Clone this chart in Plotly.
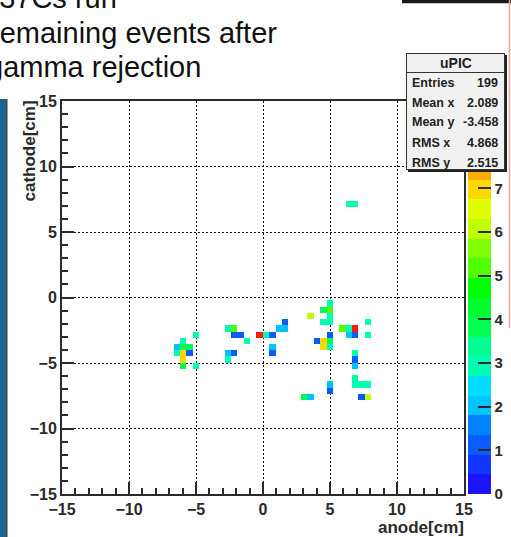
import numpy as np
import plotly.graph_objects as go

# ---------------- data ----------------
title_lines = ["137Cs run", "remaining events after", "gamma rejection"]
x_label = "anode[cm]"
y_label = "cathode[cm]"
axis_ticks = [-15, -10, -5, 0, 5, 10, 15]
bin_width = 10 / 21  # cm

# occupied bins: centres (cm) and counts
cell_x = [-5.00, -5.95, -6.43, -5.95, -5.48, -6.43, -5.95, -5.48, -5.95, -5.95, -5.00,
          -2.62, -2.14, -2.14, -1.67, -1.19, -2.62, -2.14, -2.62,
          -0.24, 0.24, 0.71, 0.71, 0.71, 1.19, 1.67, 1.67,
          4.52, 3.57, 4.52, 5.00, 5.00, 5.00, 5.00, 5.00, 5.00, 5.00, 4.05, 4.52, 4.52,
          5.95, 6.43, 6.90, 6.43, 6.90, 7.86, 7.86, 6.90, 6.90, 6.90, 6.90, 6.90, 7.38, 7.86,
          5.00, 5.00, 3.10, 3.57, 7.38, 7.86,
          6.43, 6.90]
cell_y = [-2.86, -3.33, -3.81, -3.81, -3.81, -4.29, -4.29, -4.29, -4.76, -5.24, -5.24,
          -2.38, -2.38, -2.86, -2.86, -3.33, -4.29, -4.29, -4.76,
          -2.86, -2.86, -2.86, -3.81, -4.29, -2.38, -2.38, -1.90,
          -0.95, -1.43, -1.90, -0.48, -0.95, -1.43, -1.90, -2.86, -3.33, -3.81, -3.33, -3.33, -3.81,
          -2.38, -2.38, -2.38, -2.86, -2.86, -1.90, -2.86, -4.29, -4.76, -5.24, -6.19, -6.67, -6.67, -6.67,
          -6.67, -7.14, -7.62, -7.62, -7.62, -7.62,
          7.14, 7.14]
cell_z = [3, 3, 2, 4, 4, 3, 7, 1, 7, 4, 3,
          3, 5, 1, 1, 3, 2, 1, 3,
          9, 3, 1, 2, 1, 2, 2, 1,
          4, 6, 3, 3, 5, 3, 3, 1, 4, 3, 1, 7, 7,
          5, 3, 9, 2, 1, 3, 3, 3, 1, 2, 3, 3, 3, 3,
          2, 1, 4, 2, 1, 6,
          3, 3]
z_min, z_max = 0, 9
band_colors = ["#1a14ff", "#1036ff", "#0a5cff", "#0082ff", "#00c4ff",
               "#00dcff", "#00ffb0", "#00ff90", "#00ff50", "#00ff30",
               "#00ff00", "#50ff00", "#80ff00", "#c0ff00", "#e0ff00",
               "#ffd800", "#ffaa00", "#ff7700", "#ff4000", "#ff1a00"]
colorbar_ticks = [0, 1, 2, 3, 4, 5, 6, 7]

stats_title = "uPIC"
stats_names = ["Entries", "Mean x", "Mean y", "RMS x", "RMS y"]
stats_values = ["199", "2.089", "-3.458", "4.868", "2.515"]

# ---------------- geometry helpers ----------------
W, H = 511, 537
L, R, T, B = 62, 47, 101, 43
PW, PH = W - L - R, H - T - B


def xp(px):
    return (px - L) / PW


def yp(py):
    return (H - B - py) / PH


# ---------------- histogram grid ----------------
ix_all = np.arange(-32, 32)
iy_all = np.arange(-32, 33)
xc = (ix_all + 0.5) * bin_width
yc = iy_all * bin_width
z = np.full((len(yc), len(xc)), np.nan)
for cx, cy, cz in zip(cell_x, cell_y, cell_z):
    i = int(round(cx / bin_width - 0.5)) + 32
    j = int(round(cy / bin_width)) + 32
    z[j, i] = cz

n = len(band_colors)
colorscale = []
for k, c in enumerate(band_colors):
    colorscale.append([k / n, c])
    colorscale.append([(k + 1) / n, c])

FONT = "Liberation Sans, Arial, sans-serif"
DARK = "#2a2a2a"

fig = go.Figure()
fig.add_trace(go.Heatmap(
    x=xc, y=yc, z=z, zmin=z_min, zmax=z_max, colorscale=colorscale,
    zsmooth=False, hoverinfo="skip", showscale=True,
    colorbar=dict(
        x=xp(468), xanchor="left", xpad=0, y=0.5, yanchor="middle",
        len=1, lenmode="fraction", ypad=0, thickness=23, outlinewidth=0,
        tickvals=colorbar_ticks, ticks="inside", ticklen=13, tickwidth=1.5,
        tickcolor=DARK,
        tickfont=dict(family=FONT, size=15, color=DARK, weight="bold"),
    ),
))

axis_common = dict(
    range=[-15, 15], tickvals=axis_ticks, ticks="inside", ticklen=12,
    tickwidth=1.5, tickcolor=DARK, showline=True, linecolor=DARK, linewidth=2,
    mirror=True, showgrid=True, gridcolor="#111", griddash="1.5px,2.5px",
    gridwidth=1, zeroline=False, automargin=False,
    minor=dict(dtick=1, ticks="inside", ticklen=6, tickcolor=DARK, tickwidth=1.5, showgrid=False),
    tickfont=dict(family=FONT, size=16, color=DARK, weight="bold"),
)
fig.update_xaxes(**axis_common)
fig.update_yaxes(**axis_common)

shapes = [
    # left blue slide strip
    dict(type="rect", xref="paper", yref="paper", x0=xp(0), x1=xp(6), y0=yp(537), y1=yp(99),
         fillcolor="#1a6592", line_width=0, layer="above"),
    dict(type="rect", xref="paper", yref="paper", x0=xp(6), x1=xp(7.5), y0=yp(537), y1=yp(99),
         fillcolor="#444", line_width=0, layer="above"),
    # top-right dark bar
    dict(type="rect", xref="paper", yref="paper", x0=xp(402), x1=xp(511), y0=yp(3.3), y1=yp(0),
         fillcolor="#1a1a1a", line_width=0, layer="above"),
    # pink vertical line
    dict(type="line", xref="paper", yref="paper", x0=xp(509.5), x1=xp(509.5), y0=yp(328), y1=yp(0),
         line=dict(color="#f2a0a0", width=1.5), layer="above"),
]

ann = []
# slide title (cut by the left/top edges)
title_pos = [(-19, -2), (-11.7, 33), (-15, 67)]
for txt, (px, py) in zip(title_lines, title_pos):
    ann.append(dict(text=txt, xref="paper", yref="paper", x=xp(px), y=yp(py),
                    xanchor="left", yanchor="middle", showarrow=False,
                    font=dict(family=FONT, size=29, color="#111")))

# axis titles
ann.append(dict(text=x_label, xref="paper", yref="paper", x=xp(466), y=yp(527),
                xanchor="right", yanchor="middle", showarrow=False,
                font=dict(family=FONT, size=17, color=DARK, weight="bold")))
ann.append(dict(text=y_label, xref="paper", yref="paper", x=xp(29), y=yp(99),
                xanchor="center", yanchor="top", textangle=-90, showarrow=False,
                font=dict(family=FONT, size=17, color=DARK, weight="bold")))

# stats box: shadow, box, header line
bx0, bx1, by0, by1 = 406, 505, 53, 170
ann.append(dict(text=" ", xref="paper", yref="paper", x=xp(bx0 + 2), y=yp(by0 + 2),
                xanchor="left", yanchor="top", showarrow=False, width=bx1 - bx0, height=by1 - by0,
                bgcolor="#222", borderwidth=0, borderpad=0, font=dict(size=2)))
ann.append(dict(text=" ", xref="paper", yref="paper", x=xp(bx0), y=yp(by0),
                xanchor="left", yanchor="top", showarrow=False, width=bx1 - bx0 - 2, height=by1 - by0 - 2,
                bgcolor="#f1f1f1", bordercolor="#333", borderwidth=1, borderpad=0, font=dict(size=2)))
ann.append(dict(text=" ", xref="paper", yref="paper", x=xp(bx0), y=yp(72),
                xanchor="left", yanchor="middle", showarrow=False, width=bx1 - bx0, height=1,
                bgcolor="#333", borderwidth=0, borderpad=0, font=dict(size=1)))
ann.append(dict(text=stats_title, xref="paper", yref="paper", x=xp((bx0 + bx1) / 2), y=yp(63),
                xanchor="center", yanchor="middle", showarrow=False,
                font=dict(family=FONT, size=14, color="#222", weight="bold")))
row_y = [83.3, 103.3, 122.3, 143.3, 162.7]
for name, val, ry in zip(stats_names, stats_values, row_y):
    ann.append(dict(text=name, xref="paper", yref="paper", x=xp(410), y=yp(ry),
                    xanchor="left", yanchor="middle", showarrow=False,
                    font=dict(family=FONT, size=12.5, color="#222", weight="bold")))
    ann.append(dict(text=val, xref="paper", yref="paper", x=xp(500), y=yp(ry),
                    xanchor="right", yanchor="middle", showarrow=False,
                    font=dict(family=FONT, size=12.5, color="#222", weight="bold")))

fig.update_layout(
    width=W, height=H, margin=dict(l=L, r=R, t=T, b=B, pad=0, autoexpand=False),
    paper_bgcolor="white", plot_bgcolor="white",
    shapes=shapes, annotations=ann, showlegend=False,
)

fig.write_html("out.html", config={"displayModeBar": False},
               post_script="document.body.style.margin='0px';")
